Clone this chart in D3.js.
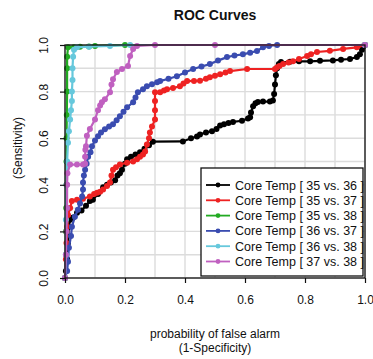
<!DOCTYPE html>
<html lang="en">
<head>
<meta charset="utf-8">
<title>ROC Curves</title>
<script src="https://d3js.org/d3.v7.min.js"></script>
<style>
  body { margin: 0; background: #fff; }
  text { font-family: "Liberation Sans", Arial, sans-serif; fill: #111; }
  .grid line { stroke: #dcdcdc; stroke-width: 1.4; }
  .axis path, .axis line { stroke: #111; stroke-width: 1.2; }
  .axis text { font-size: 12px; }
</style>
</head>
<body>
<script>
// chart size
const w = 373, h = 359;
const margin = {top: 45, right: 8, bottom: 81, left: 65};

// data: [false alarm, sensitivity]
const labels = ["Core Temp [ 35 vs. 36 ]", "Core Temp [ 35 vs. 37 ]", "Core Temp [ 35 vs. 38 ]",
                "Core Temp [ 36 vs. 37 ]", "Core Temp [ 36 vs. 38 ]", "Core Temp [ 37 vs. 38 ]"];
const colors = ["#000000", "#ee2222", "#22aa22", "#3a4cb0", "#66c8dc", "#c060c0"];
const ticks = [0, 0.2, 0.4, 0.6, 0.8, 1.0];
const gridTicks = [0, 0.1, 0.2, 0.3, 0.4, 0.5, 0.6, 0.7, 0.8, 0.9, 1.0];

const roc3536 = [[0,0],[0.003,0.03],[0.007,0.08],[0.01,0.15],[0.013,0.22],[0.017,0.25],[0.027,0.26],[0.04,0.28],
  [0.055,0.29],[0.07,0.31],[0.083,0.33],[0.093,0.336],[0.11,0.36],[0.127,0.39],[0.14,0.4],[0.153,0.41],[0.167,0.42],
  [0.175,0.44],[0.183,0.45],[0.19,0.465],[0.2,0.49],[0.207,0.51],[0.22,0.52],[0.235,0.53],[0.25,0.54],[0.265,0.555],
  [0.28,0.57],[0.293,0.585],[0.393,0.586],[0.42,0.6],[0.44,0.607],[0.45,0.616],[0.47,0.625],[0.49,0.63],[0.505,0.64],
  [0.517,0.655],[0.53,0.66],[0.545,0.665],[0.56,0.67],[0.59,0.675],[0.61,0.685],[0.617,0.69],[0.62,0.71],[0.627,0.737],
  [0.635,0.75],[0.643,0.755],[0.66,0.757],[0.683,0.757],[0.693,0.762],[0.697,0.79],[0.7,0.83],[0.703,0.87],[0.707,0.9],
  [0.713,0.918],[0.72,0.927],[0.75,0.928],[0.78,0.93],[0.817,0.93],[0.85,0.932],[0.893,0.934],[0.92,0.937],[0.95,0.94],
  [0.973,0.948],[0.983,0.96],[0.99,0.98],[0.995,0.995],[1,1]];

const roc3537 = [[0,0],[0.003,0.08],[0.005,0.15],[0.007,0.22],[0.01,0.27],[0.017,0.3],[0.023,0.33],[0.04,0.336],
  [0.06,0.34],[0.083,0.35],[0.097,0.36],[0.107,0.366],[0.117,0.37],[0.127,0.38],[0.14,0.395],[0.15,0.41],[0.155,0.44],
  [0.16,0.465],[0.17,0.475],[0.183,0.487],[0.207,0.495],[0.227,0.5],[0.24,0.51],[0.25,0.52],[0.26,0.53],[0.267,0.543],
  [0.273,0.573],[0.28,0.6],[0.283,0.625],[0.29,0.65],[0.3,0.68],[0.3,0.72],[0.3,0.76],[0.3,0.797],[0.317,0.797],
  [0.33,0.805],[0.34,0.81],[0.36,0.815],[0.383,0.823],[0.395,0.835],[0.407,0.845],[0.43,0.846],[0.45,0.847],[0.47,0.855],
  [0.483,0.862],[0.5,0.868],[0.517,0.875],[0.535,0.882],[0.55,0.888],[0.607,0.897],[0.7,0.897],[0.707,0.905],
  [0.715,0.91],[0.727,0.918],[0.745,0.925],[0.76,0.93],[0.78,0.94],[0.807,0.953],[0.82,0.96],[0.84,0.97],[0.883,0.975],
  [0.927,0.983],[0.973,0.99],[1,1]];

const roc3538 = [[0,0],[0.003,0.1],[0.003,0.2],[0.004,0.3],[0.005,0.4],[0.005,0.5],[0.005,0.6],[0.006,0.7],
  [0.007,0.8],[0.007,0.9],[0.007,0.95],[0.01,0.99],[0.03,0.99],[0.05,0.993],[0.08,0.994],[0.1,0.996],[0.2,1],[1,1]];

const roc3637 = [[0,0],[0.007,0.03],[0.01,0.07],[0.013,0.13],[0.02,0.18],[0.023,0.22],[0.033,0.263],[0.043,0.293],
  [0.05,0.32],[0.057,0.35],[0.06,0.38],[0.06,0.41],[0.063,0.44],[0.067,0.465],[0.072,0.49],[0.077,0.52],[0.085,0.54],
  [0.09,0.565],[0.1,0.59],[0.11,0.608],[0.12,0.625],[0.133,0.638],[0.147,0.65],[0.16,0.66],[0.172,0.677],[0.183,0.694],
  [0.195,0.714],[0.207,0.733],[0.227,0.754],[0.235,0.775],[0.243,0.797],[0.26,0.81],[0.273,0.823],[0.29,0.832],
  [0.307,0.84],[0.317,0.845],[0.345,0.855],[0.373,0.866],[0.4,0.882],[0.427,0.897],[0.455,0.908],[0.483,0.918],
  [0.51,0.933],[0.54,0.948],[0.565,0.955],[0.593,0.96],[0.617,0.967],[0.64,0.974],[0.66,0.99],[0.68,0.996],
  [0.707,1],[1,1]];

const roc3638 = [[0,0],[0.003,0.1],[0.003,0.25],[0.005,0.4],[0.007,0.5],[0.01,0.58],[0.013,0.63],[0.017,0.68],
  [0.02,0.72],[0.023,0.76],[0.023,0.8],[0.025,0.85],[0.025,0.9],[0.027,0.95],[0.03,0.98],[0.04,0.99],[0.08,0.993],
  [0.15,0.996],[0.217,1],[1,1]];

const roc3738 = [[0,0],[0.003,0.1],[0.005,0.2],[0.007,0.3],[0.007,0.4],[0.008,0.45],[0.017,0.487],[0.04,0.487],
  [0.06,0.487],[0.067,0.49],[0.067,0.52],[0.068,0.55],[0.07,0.565],[0.073,0.61],[0.083,0.64],[0.1,0.68],[0.11,0.72],
  [0.117,0.74],[0.123,0.754],[0.133,0.767],[0.15,0.797],[0.155,0.83],[0.16,0.853],[0.173,0.884],[0.19,0.897],
  [0.21,0.91],[0.217,0.953],[0.227,0.983],[0.24,0.996],[0.3,1],[0.5,1],[1,1]];

const curves = [roc3536, roc3537, roc3538, roc3637, roc3638, roc3738];

// scales
const xScale = d3.scaleLinear().domain([0, 1]).range([margin.left, w - margin.right]);
const yScale = d3.scaleLinear().domain([0, 1]).range([h - margin.bottom, margin.top]);

const svg = d3.select("body").append("svg")
  .attr("width", w)
  .attr("height", h);

// grid
svg.append("g").attr("class", "grid")
  .selectAll("line.v").data(gridTicks).join("line")
  .attr("x1", d => xScale(d)).attr("x2", d => xScale(d))
  .attr("y1", yScale(0)).attr("y2", yScale(1));
svg.append("g").attr("class", "grid")
  .selectAll("line.h").data(gridTicks).join("line")
  .attr("y1", d => yScale(d)).attr("y2", d => yScale(d))
  .attr("x1", xScale(0)).attr("x2", xScale(1));

// curves
const line = d3.line().x(d => xScale(d[0])).y(d => yScale(d[1]));
curves.forEach((c, i) => {
  const g = svg.append("g");
  g.append("path")
    .attr("d", line(c))
    .attr("fill", "none")
    .attr("stroke", colors[i])
    .attr("stroke-width", 2.2);
  g.selectAll("circle").data(c).join("circle")
    .attr("cx", d => xScale(d[0]))
    .attr("cy", d => yScale(d[1]))
    .attr("r", 3)
    .attr("fill", colors[i]);
});

// box
svg.append("rect")
  .attr("x", xScale(0)).attr("y", yScale(1))
  .attr("width", xScale(1) - xScale(0))
  .attr("height", yScale(0) - yScale(1))
  .attr("fill", "none").attr("stroke", "#111").attr("stroke-width", 1.3);

// axes
svg.append("g").attr("class", "axis")
  .attr("transform", "translate(0," + yScale(0) + ")")
  .call(d3.axisBottom(xScale).tickValues(ticks).tickFormat(d3.format(".1f")).tickSize(5).tickPadding(12))
  .call(g => g.select(".domain").remove());

const yAxis = svg.append("g").attr("class", "axis")
  .attr("transform", "translate(" + xScale(0) + ",0)")
  .call(d3.axisLeft(yScale).tickValues(ticks).tickFormat(d3.format(".1f")).tickSize(5))
  .call(g => g.select(".domain").remove());
yAxis.selectAll(".tick text")
  .attr("x", 0).attr("dy", 0)
  .attr("text-anchor", "middle")
  .attr("transform", "translate(-17,0) rotate(-90)");

// title and labels
svg.append("text")
  .attr("x", xScale(0.5)).attr("y", 20)
  .attr("text-anchor", "middle")
  .style("font-size", "14px").style("font-weight", "bold")
  .text("ROC Curves");

svg.append("text")
  .attr("x", xScale(0.5)).attr("y", 338)
  .attr("text-anchor", "middle")
  .style("font-size", "12px")
  .text("probability of false alarm");
svg.append("text")
  .attr("x", xScale(0.5)).attr("y", 352)
  .attr("text-anchor", "middle")
  .style("font-size", "12px")
  .text("(1-Specificity)");

svg.append("text")
  .attr("transform", "translate(22,148) rotate(-90)")
  .attr("text-anchor", "middle")
  .style("font-size", "12px")
  .text("(Sensitivity)");

// legend
const legend = svg.append("g");
legend.append("rect")
  .attr("x", 201).attr("y", 168).attr("width", 162).attr("height", 108)
  .attr("fill", "#fff").attr("stroke", "#111").attr("stroke-width", 1.3);
labels.forEach((lab, i) => {
  const y = 185 + i * 15.3;
  legend.append("line")
    .attr("x1", 206).attr("x2", 230).attr("y1", y).attr("y2", y)
    .attr("stroke", colors[i]).attr("stroke-width", 1.8);
  legend.append("circle")
    .attr("cx", 218).attr("cy", y).attr("r", 2.4).attr("fill", colors[i]);
  legend.append("text")
    .attr("x", 235).attr("y", y + 4.5)
    .style("font-size", "12.5px")
    .text(lab);
});
</script>
</body>
</html>
